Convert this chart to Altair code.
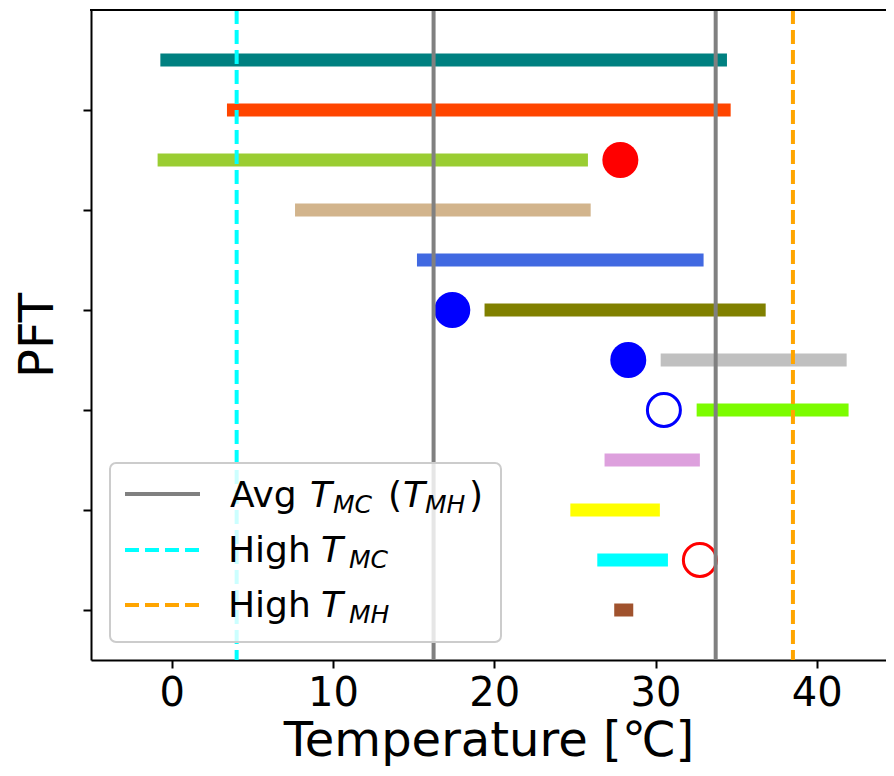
import altair as alt
import pandas as pd

# ---- data (rows counted from the bottom) ----
pft_rows = [0, 1, 2, 3, 4, 5, 6, 7, 8, 9, 10, 11]
t_low = [27.44, 26.39, 24.72, 26.84, 32.55, 30.32, 19.40, 15.21, 7.65, -0.87, 3.43, -0.70]
t_high = [28.62, 30.77, 30.27, 32.75, 41.97, 41.85, 36.83, 32.98, 25.98, 25.81, 34.66, 34.43]
bar_colors = ["sienna", "cyan", "yellow", "plum", "lawngreen", "silver",
              "olive", "royalblue", "tan", "yellowgreen", "orangered", "teal"]

filled_rows = [9, 6, 5]
filled_temps = [27.82, 17.40, 28.31]
filled_colors = ["red", "blue", "blue"]

hollow_rows = [4, 1]
hollow_temps = [30.52, 32.75]
hollow_colors = ["blue", "red"]

avg_lines = [16.24, 33.73]
high_tmc = [4.03]
high_tmh = [38.52]

x_ticks = [0, 10, 20, 30, 40]
y_ticks = [0, 2, 4, 6, 8, 10]

FONT = "DejaVu Sans"
PW, PH = 795, 650

bars_df = pd.DataFrame({"row": pft_rows, "lo": t_low, "hi": t_high,
                        "pft": [str(r) for r in pft_rows]})
filled_df = pd.DataFrame({"row": filled_rows, "t": filled_temps, "c": filled_colors})
hollow_df = pd.DataFrame({"row": hollow_rows, "t": hollow_temps, "c": hollow_colors})
avg_df = pd.DataFrame({"t": avg_lines})
tmc_df = pd.DataFrame({"t": high_tmc})
tmh_df = pd.DataFrame({"t": high_tmh})
one = pd.DataFrame({"a": [0]})

xscale = alt.Scale(domain=[-5, 44.29], nice=False, zero=False)
yscale = alt.Scale(domain=[-1, 12], nice=False, zero=False)

x_axis = alt.Axis(values=x_ticks, title="Temperature [℃]", labelFontSize=40,
                  titleFontSize=48, labelFont=FONT, titleFont=FONT,
                  tickSize=8, tickWidth=2, domainWidth=2, labelPadding=5,
                  titlePadding=4, titleFontWeight="normal", labelColor="black",
                  titleColor="black", domainColor="black", tickColor="black",
                  labelFlush=False)
y_axis = alt.Axis(values=y_ticks, labels=False, title="PFT", titleFontSize=48,
                  titleFont=FONT, tickSize=8, tickWidth=2, domainWidth=2,
                  titlePadding=20, titleFontWeight="normal", titleColor="black",
                  domainColor="black", tickColor="black")

bars = alt.Chart(bars_df).mark_rule(strokeWidth=13, strokeCap="butt").encode(
    x=alt.X("lo:Q", scale=xscale, axis=x_axis),
    x2="hi:Q",
    y=alt.Y("row:Q", scale=yscale, axis=y_axis),
    color=alt.Color("pft:N", scale=alt.Scale(domain=[str(r) for r in pft_rows],
                                             range=bar_colors), legend=None),
)

filled = alt.Chart(filled_df).mark_point(filled=True, size=1296, opacity=1,
                                         shape="circle").encode(
    x=alt.X("t:Q", scale=xscale),
    y=alt.Y("row:Q", scale=yscale),
    fill=alt.Fill("c:N", scale=None),
)
hollow = alt.Chart(hollow_df).mark_point(filled=False, size=1089, strokeWidth=3,
                                         opacity=1, shape="circle").encode(
    x=alt.X("t:Q", scale=xscale),
    y=alt.Y("row:Q", scale=yscale),
    stroke=alt.Stroke("c:N", scale=None),
)

avg = alt.Chart(avg_df).mark_rule(color="gray", strokeWidth=4).encode(
    x=alt.X("t:Q", scale=xscale))
tmc = alt.Chart(tmc_df).mark_rule(color="cyan", strokeWidth=4,
                                  strokeDash=[14, 6]).encode(
    x=alt.X("t:Q", scale=xscale))
tmh = alt.Chart(tmh_df).mark_rule(color="orange", strokeWidth=4,
                                  strokeDash=[14, 6]).encode(
    x=alt.X("t:Q", scale=xscale))

# top spine
top_spine = alt.Chart(one).mark_rule(color="black", strokeWidth=2).encode(
    x=alt.value(-1), x2=alt.value(PW), y=alt.value(0))

# ---- manual legend (pixel positions inside the plot area) ----
leg_box = alt.Chart(one).mark_rect(fill="white", fillOpacity=0.8, stroke="#cccccc",
                                   strokeWidth=2, cornerRadius=6).encode(
    x=alt.value(19), x2=alt.value(410), y=alt.value(453), y2=alt.value(632))

leg_l1 = alt.Chart(one).mark_rule(color="gray", strokeWidth=4).encode(
    x=alt.value(34), x2=alt.value(109), y=alt.value(484))
leg_l2 = alt.Chart(one).mark_rule(color="cyan", strokeWidth=4, strokeDash=[14, 6]).encode(
    x=alt.value(34), x2=alt.value(109), y=alt.value(540))
leg_l3 = alt.Chart(one).mark_rule(color="orange", strokeWidth=4, strokeDash=[14, 6]).encode(
    x=alt.value(34), x2=alt.value(109), y=alt.value(595))


def txt(s, x, y, size=36, italic=False):
    return alt.Chart(one).mark_text(
        text=s, font=FONT, fontSize=size, align="left", baseline="alphabetic",
        fontStyle="italic" if italic else "normal", color="black"
    ).encode(x=alt.value(x), y=alt.value(y))


legend_texts = [
    txt("Avg", 139, 497), txt("T", 219, 497, italic=True),
    txt("MC", 242, 503, size=25, italic=True), txt("(", 297, 497),
    txt("T", 312, 497, italic=True), txt("MH", 334, 503, size=25, italic=True),
    txt(")", 378, 497),
    txt("High", 137, 552), txt("T", 230, 552, italic=True),
    txt("MC", 258, 558, size=25, italic=True),
    txt("High", 137, 607), txt("T", 230, 607, italic=True),
    txt("MH", 258, 613, size=25, italic=True),
]

chart = alt.layer(
    bars, filled, hollow, avg, tmc, tmh, top_spine, leg_box, leg_l1, leg_l2, leg_l3,
    *legend_texts
).properties(
    width=PW, height=PH,
    autosize="none",
    padding={"left": 83, "top": 2, "right": 0, "bottom": 108},
).configure_view(stroke=None).configure_axis(grid=False)

chart.save("out.html", embed_options={"renderer": "svg", "actions": False})
